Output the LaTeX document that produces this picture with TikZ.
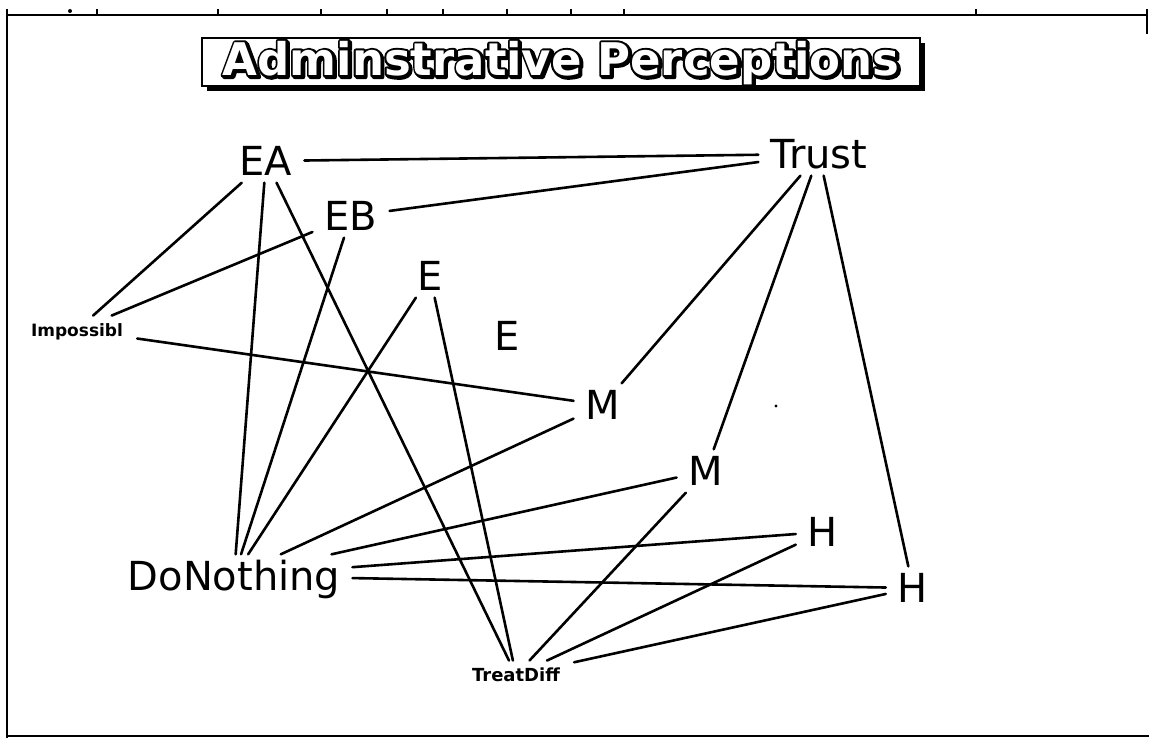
\documentclass[tikz,border=0pt]{standalone}
\usepackage{fontspec}
\setmainfont{DejaVu Sans}
\begin{document}
\begin{tikzpicture}[x=1pt,y=-1pt,
  lab/.style={font=\fontsize{40}{48}\selectfont, inner xsep=12pt, inner ysep=7pt, text height=29pt, text depth=0pt},
  smalllab/.style={font=\bfseries\fontsize{17}{20}\selectfont, inner xsep=14pt, inner ysep=8pt, text height=12.5pt, text depth=0pt},
  link/.style={line width=2.6pt, line cap=round},
  framel/.style={line width=2.4pt},
  tt/.style={font=\bfseries\fontsize{45}{54}\selectfont, inner sep=0pt}]
\useasboundingbox (0,0) rectangle (1149,738);
% frame
\draw[framel] (7,9) -- (7,738);
\draw[framel] (7,15) -- (1147,15);
\draw[framel] (1147,9) -- (1147,34);
\draw[line width=2pt] (7,736) -- (1149,736);
\foreach \t in {97,218,321,387,443,507,571,624,976} \draw[framel] (\t,15) -- (\t,9);
\fill (70,11) circle (2pt);
% title
\fill (207,43) rectangle (925,91);
\draw[line width=2pt, fill=white] (202,38) rectangle (920,86);
\node[tt] (titleshadow) at (562.5,64.5) {\special{pdf:code q 2 Tr 0 G 0 g 4.6 w 1 j}Adminstrative Perceptions\special{pdf:code Q}};
\node[tt] (titleline) at (561,63) {\special{pdf:code q 2 Tr 0 G 0 g 4.6 w 1 j}Adminstrative Perceptions\special{pdf:code Q}};
\node[tt, text=white] (title) at (561,63) {Adminstrative Perceptions};
% nodes
\node[lab] (EA) at (266,161) {EA};
\node[lab] (Trust) at (819,154) {Trust};
\node[lab] (EB) at (351,216) {EB};
\node[lab] (E1) at (430,276) {E};
\node[lab] (E2) at (507,336) {E};
\node[smalllab] (Imp) at (77,330) {Impossibl};
\node[lab] (M1) at (603,405) {M};
\node[lab] (M2) at (706,471) {M};
\node[lab] (H1) at (823,532) {H};
\node[lab] (H2) at (913,588) {H};
\node[lab] (DN) at (234,576) {DoNothing};
\node[smalllab, font=\bfseries\fontsize{18}{21}\selectfont] (TD) at (516,675) {TreatDiff};
\fill (776,406) circle (1.6pt);
% links
\draw[link] (EA) -- (Trust);
\draw[link] (EB) -- (Trust);
\draw[link] (EA) -- (Imp);
\draw[link] (EB) -- (Imp);
\draw[link] (Imp) -- (M1);
\draw[link] (EA) -- (DN);
\draw[link] (EA) -- (TD);
\draw[link] (EB) -- (DN);
\draw[link] (E1) -- (DN);
\draw[link] (E1) -- (TD);
\draw[link] (M1) -- (DN);
\draw[link] (M2) -- (DN);
\draw[link] (H1) -- (DN);
\draw[link] (H2) -- (DN);
\draw[link] (Trust) -- (M1);
\draw[link] (Trust) -- (M2);
\draw[link] (Trust) -- (H2);
\draw[link] (M2) -- (TD);
\draw[link] (H1) -- (TD);
\draw[link] (H2) -- (TD);
\end{tikzpicture}
\end{document}
